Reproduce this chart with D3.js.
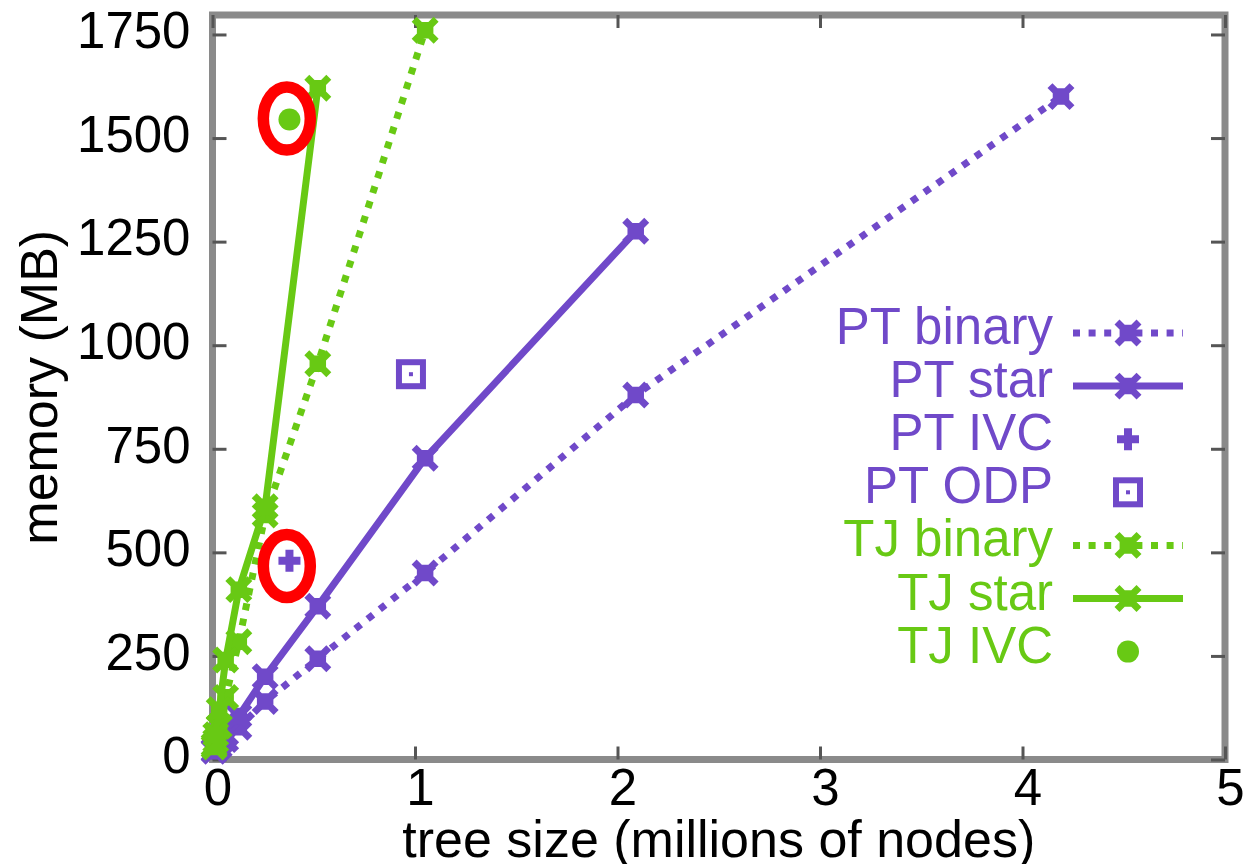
<!DOCTYPE html>
<html>
<head>
<meta charset="utf-8">
<script src="https://d3js.org/d3.v7.min.js"></script>
<style>
body { margin: 0; background: #fff; }
text { font-family: "Liberation Sans", Arial, sans-serif; }
</style>
</head>
<body>
<div id="chart"></div>
<script>
// tree size in millions of nodes, memory in MB
var seriesNames = ["PT binary", "PT star", "PT IVC", "PT ODP", "TJ binary", "TJ star", "TJ IVC"];

var ptBinaryX = [0.008, 0.016, 0.033, 0.065, 0.13, 0.26, 0.52, 1.05, 2.09, 4.19];
var ptBinaryY = [20, 25, 32, 48, 78, 140, 243, 450, 880, 1600];
var ptStarX = [0.008, 0.016, 0.033, 0.065, 0.13, 0.26, 0.52, 1.05, 2.09];
var ptStarY = [22, 30, 42, 62, 105, 200, 370, 727, 1275];
var ptIvcX = [0.38];
var ptIvcY = [480];
var ptOdpX = [0.98];
var ptOdpY = [930];
var tjBinaryX = [0.008, 0.016, 0.033, 0.065, 0.13, 0.26, 0.52, 1.05];
var tjBinaryY = [30, 45, 80, 150, 284, 590, 955, 1760];
var tjStarX = [0.008, 0.016, 0.033, 0.065, 0.13, 0.26, 0.52];
var tjStarY = [35, 60, 120, 240, 410, 610, 1620];
var tjIvcX = [0.38];
var tjIvcY = [1545];

// red circled points
var circledX = [0.367, 0.367];
var circledY = [467, 1547];

var xTicks = [0, 1, 2, 3, 4, 5];
var yTicks = [0, 250, 500, 750, 1000, 1250, 1500, 1750];

var purple = "#7049c9",
    green = "#68c914";

var width = 1249, height = 864;

var svg = d3.select("#chart")
  .append("svg")
  .attr("width", width)
  .attr("height", height)
  .style("background", "#fff");

var x = d3.scaleLinear().domain([0, 5]).range([212.5, 1225]);
var y = d3.scaleLinear().domain([0, 1797]).range([759.5, 15]);

var x0 = x.range()[0], x1 = x.range()[1];
var y0 = y.range()[0], y1 = y.range()[1];

// frame
svg.append("rect")
  .attr("x", x0)
  .attr("y", y1)
  .attr("width", x1 - x0)
  .attr("height", y0 - y1)
  .style("fill", "none")
  .style("stroke", "#8a8a8a")
  .style("stroke-width", 7);

// axes (gnuplot style: inward ticks, mirrored)
var xAxis = svg.append("g")
  .attr("transform", "translate(0," + y0 + ")")
  .call(d3.axisBottom(x).tickValues(xTicks).tickFormat(d3.format("d")).tickSize(-13).tickPadding(9));
xAxis.selectAll("text").attr("dx", 5);

var yAxis = svg.append("g")
  .attr("transform", "translate(" + x0 + ",0)")
  .call(d3.axisLeft(y).tickValues(yTicks).tickFormat(d3.format("d")).tickSize(-14).tickPadding(22));
yAxis.selectAll("text").attr("dy", "0.26em");

svg.append("g")
  .attr("transform", "translate(0," + y1 + ")")
  .call(d3.axisTop(x).tickValues(xTicks).tickSize(-13).tickFormat(""));
svg.append("g")
  .attr("transform", "translate(" + x1 + ",0)")
  .call(d3.axisRight(y).tickValues(yTicks).tickSize(-14).tickFormat(""));

svg.selectAll(".domain").remove();
svg.selectAll(".tick line")
  .style("stroke", "#555")
  .style("stroke-width", 3);
svg.selectAll(".tick text")
  .style("font-size", "51px")
  .style("fill", "#000");

// axis titles
svg.append("text")
  .attr("x", (x0 + x1) / 2)
  .attr("y", 857)
  .attr("text-anchor", "middle")
  .style("font-size", "52px")
  .text("tree size (millions of nodes)");

svg.append("text")
  .attr("transform", "translate(57," + ((y0 + y1) / 2) + ") rotate(-90)")
  .attr("text-anchor", "middle")
  .style("font-size", "52px")
  .text("memory (MB)");

// marker shapes
function starPath(r) {
  var p = r * 0.75;
  return "M" + (-r) + "," + (-r) + "L" + r + "," + r +
         "M" + (-r) + "," + r + "L" + r + "," + (-r) +
         "M" + (-p) + ",0L" + p + ",0M0," + (-p) + "L0," + p;
}
function plusPath(r) {
  return "M" + (-r) + ",0L" + r + ",0M0," + (-r) + "L0," + r;
}

var line = d3.line()
  .x(function(d) { return x(d[0]); })
  .y(function(d) { return y(d[1]); });

var series = [
  {name: seriesNames[0], pts: d3.zip(ptBinaryX, ptBinaryY), color: purple, kind: "dotted"},
  {name: seriesNames[1], pts: d3.zip(ptStarX, ptStarY), color: purple, kind: "solid"},
  {name: seriesNames[2], pts: d3.zip(ptIvcX, ptIvcY), color: purple, kind: "plus"},
  {name: seriesNames[3], pts: d3.zip(ptOdpX, ptOdpY), color: purple, kind: "square"},
  {name: seriesNames[4], pts: d3.zip(tjBinaryX, tjBinaryY), color: green, kind: "dotted"},
  {name: seriesNames[5], pts: d3.zip(tjStarX, tjStarY), color: green, kind: "solid"},
  {name: seriesNames[6], pts: d3.zip(tjIvcX, tjIvcY), color: green, kind: "dot"}
];

function drawMarker(g, kind, color, cx, cy) {
  if (kind == "dotted" || kind == "solid") {
    g.append("path")
      .attr("transform", "translate(" + cx + "," + cy + ")")
      .attr("d", starPath(11))
      .style("fill", "none")
      .style("stroke", color)
      .style("stroke-width", 7);
  } else if (kind == "plus") {
    g.append("path")
      .attr("transform", "translate(" + cx + "," + cy + ")")
      .attr("d", plusPath(11))
      .style("fill", "none")
      .style("stroke", color)
      .style("stroke-width", 8);
  } else if (kind == "square") {
    g.append("rect")
      .attr("x", cx - 12)
      .attr("y", cy - 12)
      .attr("width", 24)
      .attr("height", 24)
      .style("fill", "none")
      .style("stroke", color)
      .style("stroke-width", 6);
    g.append("rect")
      .attr("x", cx - 2)
      .attr("y", cy - 2)
      .attr("width", 4)
      .attr("height", 4)
      .style("fill", color);
  } else if (kind == "dot") {
    g.append("circle")
      .attr("cx", cx)
      .attr("cy", cy)
      .attr("r", 11)
      .style("fill", color);
  }
}

function styleLine(sel, s) {
  sel.style("fill", "none")
    .style("stroke", s.color)
    .style("stroke-width", 7);
  if (s.kind == "dotted") sel.style("stroke-dasharray", "7,8.6");
}

var plot = svg.append("g");
series.forEach(function(s) {
  var g = plot.append("g");
  if (s.kind == "dotted" || s.kind == "solid") {
    g.append("path")
      .datum(s.pts)
      .attr("d", line)
      .call(styleLine, s);
  }
  s.pts.forEach(function(d) {
    drawMarker(g, s.kind, s.color, x(d[0]), y(d[1]));
  });
});

// legend
var legend = svg.append("g");
series.forEach(function(s, i) {
  var base = 344 + i * 53.1;
  legend.append("text")
    .attr("x", 1053)
    .attr("y", base)
    .attr("text-anchor", "end")
    .style("font-size", "51px")
    .style("fill", s.color)
    .text(s.name);
  var g = legend.append("g");
  if (s.kind == "dotted" || s.kind == "solid") {
    g.append("path")
      .attr("d", "M1073," + (base - 11) + "L1183," + (base - 11))
      .call(styleLine, s);
  }
  drawMarker(g, s.kind, s.color, 1128, base - 11);
});

// red circles round the IVC points
svg.selectAll(".circled")
  .data(d3.zip(circledX, circledY))
  .enter()
  .append("ellipse")
  .attr("class", "circled")
  .attr("cx", function(d) { return x(d[0]); })
  .attr("cy", function(d) { return y(d[1]); })
  .attr("rx", 23.5)
  .attr("ry", 31.5)
  .style("fill", "none")
  .style("stroke", "#ff0000")
  .style("stroke-width", 11.5);
</script>
</body>
</html>
